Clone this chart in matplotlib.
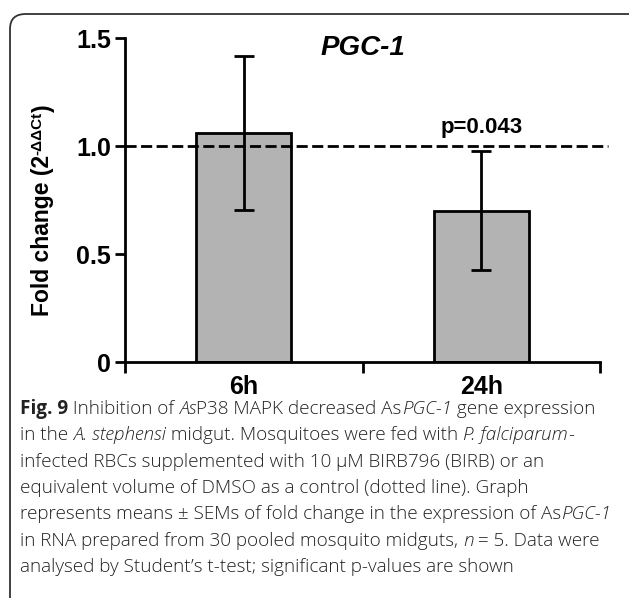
import matplotlib
matplotlib.use('Agg')
import matplotlib.pyplot as plt
from matplotlib.patches import FancyBboxPatch

# data
groups = ['6h', '24h']
fold_change = [1.06, 0.70]
sem = [0.355, 0.275]
control_level = 1.0
p_label = 'p=0.043'
gene = 'PGC-1'
yticks = [0, 0.5, 1.0, 1.5]
ytick_labels = ['0', '0.5', '1.0', '1.5']

caption_lines = [
    [('Fig. 9', 'bold'), (' Inhibition of ', 'normal'), ('As', 'italic'),
     ('P38 MAPK decreased As', 'normal'), ('PGC-1', 'italic'), (' gene expression', 'normal')],
    [('in the ', 'normal'), ('A. stephensi', 'italic'), (' midgut. Mosquitoes were fed with ', 'normal'),
     ('P. falciparum', 'italic'), ('-', 'normal')],
    [('infected RBCs supplemented with 10 µM BIRB796 (BIRB) or an', 'normal')],
    [('equivalent volume of DMSO as a control (dotted line). Graph', 'normal')],
    [('represents means ± SEMs of fold change in the expression of As', 'normal'), ('PGC-1', 'italic')],
    [('in RNA prepared from 30 pooled mosquito midguts, ', 'normal'), ('n', 'italic'),
     (' = 5. Data were', 'normal')],
    [('analysed by Student’s t-test; significant p-values are shown', 'normal')],
]

W, H = 629, 598
fig = plt.figure(figsize=(W/100, H/100), dpi=100)
plt.rcParams['font.family'] = 'Liberation Sans'

# rounded frame around figure + caption
frame = FancyBboxPatch((10/W, -0.05), 1.1, 1 - 14/H + 0.05, transform=fig.transFigure,
                       boxstyle='round,pad=0,rounding_size=0.025', fc='none', ec='#333333', lw=1.3)
fig.patches.append(frame)

ax = fig.add_axes([125/W, 1 - 362/H, 475/W, 324/H])
x = range(len(groups))
ax.bar(x, fold_change, width=0.4, color='#b3b3b3', edgecolor='black', linewidth=2, zorder=2)
ax.errorbar(x, fold_change, yerr=sem, fmt='none', ecolor='black', elinewidth=2,
            capsize=7, capthick=2, zorder=3)
ax.plot([-0.5, 1.535], [control_level, control_level], ls=(0, (4, 1.6)), color='black', lw=2,
        clip_on=False, zorder=4)

ax.set_xlim(-0.5, 1.5)
ax.set_ylim(0, 1.5)
for s in ['top', 'right']:
    ax.spines[s].set_visible(False)
for s in ['left', 'bottom']:
    ax.spines[s].set_linewidth(2)

ax.set_yticks(yticks)
ax.set_yticklabels(ytick_labels, fontsize=18, fontweight='bold')
ax.tick_params(axis='y', length=7, width=2, pad=3)
ax.set_xticks([-0.5, 0.5, 1.5])
ax.set_xticklabels([])
ax.tick_params(axis='x', length=8, width=2)
for i, g in enumerate(groups):
    ax.text(i, -0.115, g, ha='center', va='center', fontsize=18, fontweight='bold')

ax.text(0.5, 1.455, gene, ha='center', va='center', fontsize=20, fontweight='bold', style='italic')
ax.text(1, 1.085, p_label, ha='center', va='center', fontsize=16, fontweight='bold')

fig.canvas.draw()
r = fig.canvas.get_renderer()

# y label pieces: main text, raised superscript, closing bracket
lab_x = 43/W
yp = 1 - 316/H
for txt, fs, dx in [('Fold change (2', 16.5, 0), ('-ΔΔCt', 11, -6/W), (')', 16.5, 0)]:
    t = fig.text(lab_x + dx, yp, txt, rotation=90, fontsize=fs, fontweight='bold',
                 ha='left', va='center', rotation_mode='anchor')
    yp += t.get_window_extent(renderer=r).height / H

# caption, built piece by piece so bold / italic can mix in a line
y0 = 1 - 409/H
dy = 26.3/H
for k, line in enumerate(caption_lines):
    xp = 20/W
    for txt, st in line:
        t = fig.text(xp, y0 - k*dy, txt, fontsize=13.6, family='Open Sans', color='#222222',
                     fontweight='bold' if st == 'bold' else 'light',
                     style='italic' if st == 'italic' else 'normal', va='center', ha='left')
        xp += t.get_window_extent(renderer=r).width / W

fig.savefig('out.png', dpi=100)
